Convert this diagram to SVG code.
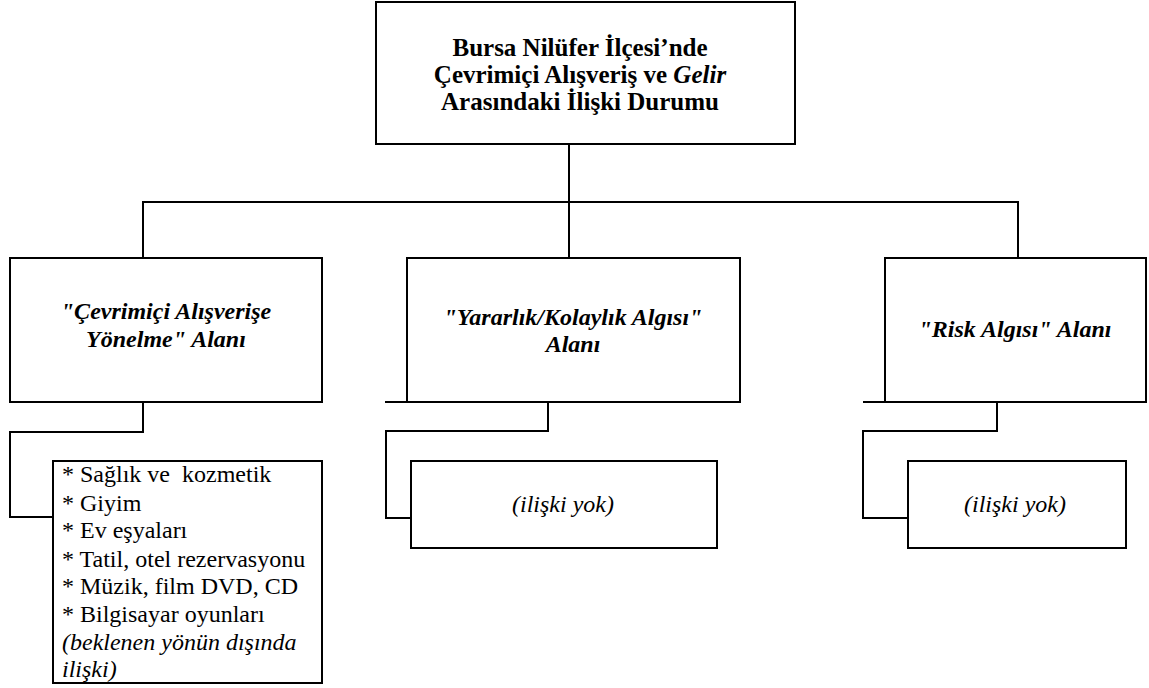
<svg xmlns="http://www.w3.org/2000/svg" width="1149" height="688" viewBox="0 0 1149 688" font-family="'Liberation Serif', Tinos, 'Times New Roman', serif">
  <style>
    .box { fill: #fff; stroke: #000; stroke-width: 2; }
    .wire { fill: none; stroke: #000; stroke-width: 2; }
    text { fill: #000; font-size: 24px; }
    .title { font-size: 25px; font-weight: bold; text-anchor: middle; }
    .area { font-weight: bold; font-style: italic; text-anchor: middle; }
    .note { font-style: italic; text-anchor: middle; }
    .list { white-space: pre; }
  </style>
  <rect width="1149" height="688" fill="#fff"/>

  <!-- connectors -->
  <g id="connectors" class="wire">
    <path d="M569 144 V202"/>
    <path d="M143 258 V202 H1018 V258"/>
    <path d="M569 202 V258"/>
    <!-- left branch to item list -->
    <path d="M143 402 V432 H10 V517 H53"/>
    <!-- middle branch -->
    <path d="M385 402 H407"/>
    <path d="M548 402 V431 H386 V518 H411"/>
    <!-- right branch -->
    <path d="M863 402 H885"/>
    <path d="M997 402 V431 H863 V518 H908"/>
  </g>

  <g id="root">
    <rect class="box" x="376" y="2" width="419" height="142"/>
    <text class="title" x="580" y="56">Bursa Nilüfer İlçesi’nde</text>
    <text class="title" x="580" y="83">Çevrimiçi Alışveriş ve <tspan font-style="italic">Gelir</tspan></text>
    <text class="title" x="580" y="110">Arasındaki İlişki Durumu</text>
  </g>

  <g id="area-shopping">
    <rect class="box" x="10" y="258" width="312" height="144"/>
    <text class="area" x="166" y="319">"Çevrimiçi Alışverişe</text>
    <text class="area" x="166" y="347">Yönelme" Alanı</text>
  </g>

  <g id="area-usefulness">
    <rect class="box" x="407" y="258" width="333" height="144"/>
    <text class="area" x="573" y="325">"Yararlık/Kolaylık Algısı"</text>
    <text class="area" x="573" y="352">Alanı</text>
  </g>

  <g id="area-risk">
    <rect class="box" x="885" y="258" width="261" height="144"/>
    <text class="area" x="1015" y="337">"Risk Algısı" Alanı</text>
  </g>

  <g id="items-shopping">
    <rect class="box" x="53" y="461" width="269" height="222"/>
    <text class="list" x="62" y="482" xml:space="preserve">* Sağlık ve  kozmetik</text>
    <text class="list" x="62" y="511">* Giyim</text>
    <text class="list" x="62" y="538">* Ev eşyaları</text>
    <text class="list" x="62" y="567">* Tatil, otel rezervasyonu</text>
    <text class="list" x="62" y="594">* Müzik, film DVD, CD</text>
    <text class="list" x="62" y="622">* Bilgisayar oyunları</text>
    <text class="list" x="62" y="650" font-style="italic">(beklenen yönün dışında</text>
    <text class="list" x="62" y="677" font-style="italic">ilişki)</text>
  </g>

  <g id="items-usefulness">
    <rect class="box" x="411" y="461" width="306" height="87"/>
    <text class="note" x="563" y="512">(ilişki yok)</text>
  </g>

  <g id="items-risk">
    <rect class="box" x="908" y="461" width="218" height="87"/>
    <text class="note" x="1015" y="512">(ilişki yok)</text>
  </g>
</svg>
